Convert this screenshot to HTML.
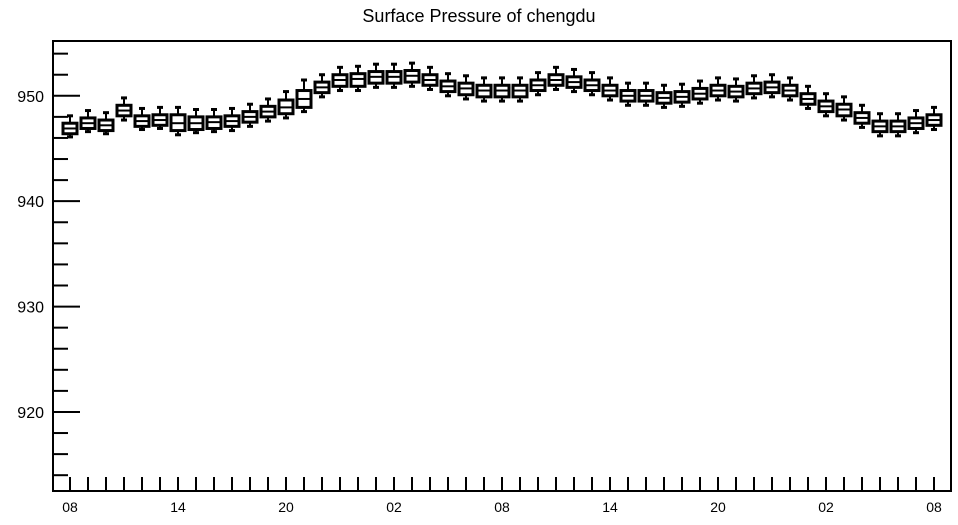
<!DOCTYPE html>
<html><head><meta charset="utf-8"><style>
body{margin:0;background:#fff;font-family:"Liberation Sans",sans-serif}
</style></head><body>
<svg id="chart" width="958" height="520" xmlns="http://www.w3.org/2000/svg">
<text x="479" y="22" text-anchor="middle" font-size="18" font-family="Liberation Sans, sans-serif">Surface Pressure of chengdu</text>
<g id="marks"></g>
<rect x="53" y="41" width="898" height="450" fill="none" stroke="#000" stroke-width="2"/>
</svg>
<script>
const medians=[946.9,947.4,947.2,948.6,947.6,947.7,947.4,947.4,947.5,947.6,948.0,948.5,948.9,949.7,950.8,951.5,951.6,951.8,951.8,951.9,951.5,950.9,950.7,950.5,950.5,950.5,951.0,951.5,951.3,951.0,950.5,950.0,950.0,949.8,949.9,950.2,950.5,950.4,950.7,950.8,950.5,949.7,949.0,948.7,947.9,947.1,947.1,947.4,947.7];
const q1=[946.4,946.9,946.7,948.1,947.1,947.2,946.7,946.8,946.9,947.1,947.5,948.0,948.3,948.9,950.3,950.9,950.9,951.2,951.2,951.3,951.0,950.4,950.1,949.9,949.9,949.9,950.5,951.0,950.8,950.5,950.0,949.5,949.5,949.3,949.4,949.7,950.0,949.9,950.2,950.3,950.0,949.2,948.5,948.1,947.4,946.6,946.6,946.9,947.2];
const q3=[947.4,947.9,947.7,949.1,948.1,948.2,948.2,948.0,948.0,948.1,948.5,949.0,949.6,950.5,951.3,952.0,952.1,952.3,952.3,952.4,952.0,951.4,951.2,951.0,951.0,951.0,951.5,952.0,951.8,951.5,951.0,950.5,950.5,950.3,950.4,950.7,951.0,950.9,951.2,951.3,951.0,950.2,949.5,949.2,948.4,947.6,947.6,947.9,948.2];
const lo=[946.1,946.6,946.4,947.7,946.8,946.9,946.3,946.5,946.6,946.7,947.1,947.6,947.9,948.5,949.9,950.5,950.5,950.8,950.8,950.9,950.6,950.0,949.7,949.5,949.5,949.5,950.1,950.6,950.4,950.1,949.6,949.1,949.1,948.9,949.0,949.3,949.6,949.5,949.8,949.9,949.6,948.8,948.1,947.7,947.0,946.2,946.2,946.5,946.8];
const hi=[948.1,948.6,948.4,949.8,948.8,948.9,948.9,948.7,948.7,948.8,949.2,949.7,950.4,951.5,952.0,952.7,952.8,953.0,953.0,953.1,952.7,952.1,951.9,951.7,951.7,951.7,952.2,952.7,952.5,952.2,951.7,951.2,951.2,951.0,951.1,951.4,951.7,951.6,951.9,952.0,951.7,950.9,950.2,949.9,949.1,948.3,948.3,948.6,948.9];
const yTickLabels=[920,930,940,950];
const xTickLabels=["08","14","20","02","08","14","20","02","08"];
const ymin=912.5,ymax=955.2,plotTop=41,plotBottom=491;
function Y(v){return plotBottom-(v-ymin)/(ymax-ymin)*(plotBottom-plotTop);}
function X(i){return 70+i*18;}
const NS="http://www.w3.org/2000/svg";
const g=document.getElementById('marks');
function mk(tag,attrs){const e=document.createElementNS(NS,tag);for(const k in attrs)e.setAttribute(k,attrs[k]);g.appendChild(e);return e;}
for(let v=914;v<=955;v+=2){
  const major=(v%10===0);
  const t=mk('line',{x1:53,x2:major?80:68,y1:Y(v),y2:Y(v),stroke:'#000','stroke-width':2});
  
  
}
yTickLabels.forEach(v=>{
  const t=mk('text',{x:44,y:Y(v)+6,'text-anchor':'end','font-size':16,'font-family':'Liberation Sans, sans-serif'});
  t.textContent=v;
  
  
});
for(let i=0;i<medians.length;i++){
  const t=mk('line',{x1:X(i),x2:X(i),y1:477,y2:491,stroke:'#000','stroke-width':2});
  
  
}
xTickLabels.forEach((s,k)=>{
  const t=mk('text',{x:X(k*6),y:512,'text-anchor':'middle','font-size':14,'font-family':'Liberation Sans, sans-serif'});
  t.textContent=s;
  
  
});
medians.forEach((m,i)=>{
  const x=X(i);
  const w1=mk('line',{x1:x,x2:x,y1:Y(hi[i]),y2:Y(q3[i]),stroke:'#000','stroke-width':2});
  
  
  const w2=mk('line',{x1:x,x2:x,y1:Y(q1[i]),y2:Y(lo[i]),stroke:'#000','stroke-width':2});
  
  
  const c1=mk('line',{x1:x-3,x2:x+3,y1:Y(hi[i]),y2:Y(hi[i]),stroke:'#000','stroke-width':3});
  
  
  const c2=mk('line',{x1:x-3,x2:x+3,y1:Y(lo[i]),y2:Y(lo[i]),stroke:'#000','stroke-width':3});
  
  
  const b=mk('rect',{x:x-7,y:Y(q3[i]),width:14,height:Y(q1[i])-Y(q3[i]),fill:'#fff',stroke:'#000','stroke-width':3});
  
  
  const md=mk('line',{x1:x-7,x2:x+7,y1:Y(m),y2:Y(m),stroke:'#000','stroke-width':2});
  
  
});
</script>
</body></html>
